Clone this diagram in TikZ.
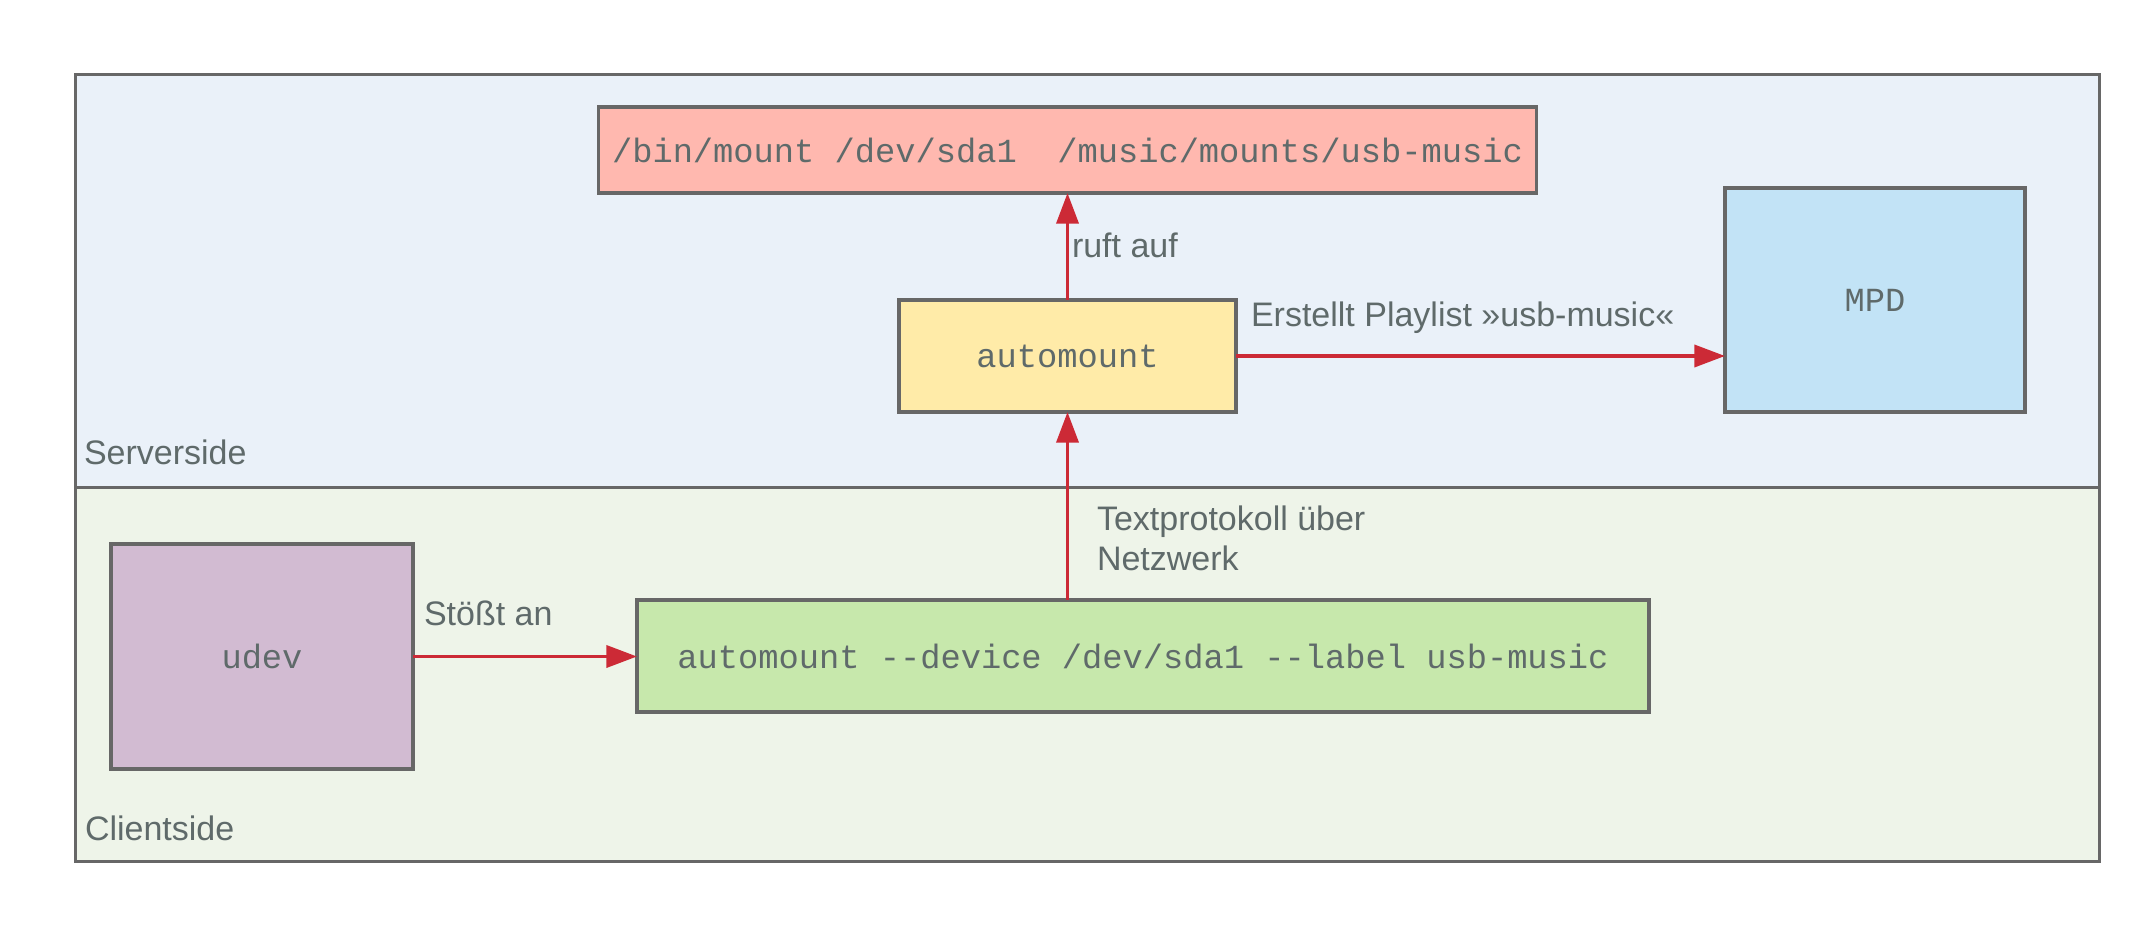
\documentclass[tikz,border=0pt]{standalone}
\usepackage{fontspec}
\setmainfont{Liberation Sans}
\setmonofont{Liberation Mono}
\usetikzlibrary{arrows.meta}
\definecolor{serverbg}{HTML}{EAF1F9}
\definecolor{clientbg}{HTML}{EEF4E9}
\definecolor{cred}{HTML}{FFB8AF}
\definecolor{cyellow}{HTML}{FFEBA8}
\definecolor{cblue}{HTML}{C2E3F6}
\definecolor{cpurple}{HTML}{D2BBD2}
\definecolor{cgreen}{HTML}{C7E8AC}
\definecolor{bordergrey}{HTML}{676767}
\definecolor{textgrey}{HTML}{5F6A6A}
\definecolor{arrowred}{HTML}{CC2A36}
\tikzset{
  box/.style={draw=bordergrey, line width=2.5pt, rectangle, inner sep=0pt, outer sep=0pt,
    text=textgrey, font=\ttfamily\fontsize{25.3}{30}\selectfont},
  lbl/.style={inner sep=0pt, outer sep=0pt, text=textgrey, font=\fontsize{25.5}{30}\selectfont},
  arr/.style={draw=arrowred, line width=2.8pt, -{Triangle[length=23pt,width=16.5pt]}},
  frame/.style={draw=bordergrey, line width=2.25pt}
}
\begin{document}
\begin{tikzpicture}[x=0.75pt,y=-0.75pt]
\useasboundingbox (0,0) rectangle (2137,938);
% regions
\fill[serverbg] (75,75) rectangle (2099,487);
\fill[clientbg] (75,487) rectangle (2099,861);
\draw[frame] (75,487) -- (2099,487);
\draw[frame] (75,75) rectangle (2099,861);
\node[lbl, anchor=base west] (serverlbl) at (84,464) {Serverside};
\node[lbl, anchor=base west] (clientlbl) at (85,840) {Clientside};
% boxes
\node[box, fill=cred, minimum width=703.5pt, minimum height=64.5pt] (mount) at (1067.5,150)
  {/bin/mount /dev/sda1\ \ /music/mounts/usb-music};
\node[box, fill=cyellow, minimum width=252.75pt, minimum height=84pt] (automount) at (1067.5,356) {automount};
\node[box, fill=cblue, minimum width=225pt, minimum height=168pt] (mpd) at (1875,300) {MPD};
\node[box, fill=cpurple, minimum width=226.5pt, minimum height=168.75pt] (udev) at (262,656.5) {udev};
\node[box, fill=cgreen, minimum width=759pt, minimum height=84pt] (client) at (1143,656)
  {automount --device /dev/sda1 --label usb-music};
% connectors
\draw[arr] (automount.north) -- (mount.south);
\draw[arr] (automount.east) -- (automount.east -| mpd.west);
\draw[arr] (automount.south |- client.north) -- (automount.south);
\draw[arr] (udev.east) -- (udev.east -| client.west);
% labels
\node[lbl, anchor=base west] (lruft) at (1072,257) {ruft auf};
\node[lbl, anchor=base west] (lplay) at (1251,326) {Erstellt Playlist »usb-music«};
\node[lbl, anchor=base west] (lstoss) at (424,625) {Stößt an};
\node[lbl, anchor=north west, align=left] (lnetz) at (1097,506) {Textprotokoll über\\Netzwerk};
\end{tikzpicture}
\end{document}
